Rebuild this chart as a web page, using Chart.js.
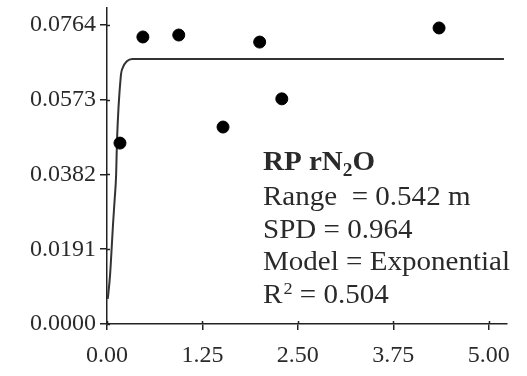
<!DOCTYPE html>
<html>
<head>
<meta charset="utf-8">
<script src="https://cdn.jsdelivr.net/npm/chart.js@4"></script>
<style>
html, body { margin: 0; padding: 0; background: #fff; }
#wrap { width: 527px; height: 376px; }
</style>
</head>
<body>
<div id="wrap"><canvas id="chart" width="527" height="376"></canvas></div>
<script>
// observed semivariance points
const lagDistance = [0.17, 0.47, 0.94, 1.52, 2.00, 2.29, 4.35]
const semivariance = [0.0462, 0.0733, 0.0738, 0.0503, 0.0720, 0.0575, 0.0756]

// fitted model curve
const modelDistance = [0.01, 0.04, 0.08, 0.10, 0.12, 0.13, 0.18, 0.21, 0.26, 0.33, 5.20]
const modelValue = [0.0064, 0.0125, 0.0258, 0.0317, 0.0383, 0.0462, 0.0631, 0.0656, 0.0671, 0.0677, 0.0677]

const xTickValues = [0, 1.25, 2.5, 3.75, 5]
const yTickValues = [0, 0.0191, 0.0382, 0.0573, 0.0764]

const seriesTitle = ["RP rN", "2", "O"]
const statLines = ["Range  = 0.542 m", "SPD = 0.964", "Model = Exponential"]
const rSquared = ["R", "2", " = 0.504"]

const axisColor = "#222"
const textColor = "#2a2a2a"
const serif = "'Liberation Serif', 'DejaVu Serif', serif"

function toPoints(xs, ys) {
    return xs.map((x, i) => ({ x, y: ys[i] }))
}

// small inner part of every tick mark, crossing the axis line
const crossTicks = {
    id: "crossTicks",
    afterDraw(chart) {
        const { ctx, scales } = chart
        const xs = scales.x
        const ys = scales.y
        ctx.save()
        ctx.strokeStyle = axisColor
        ctx.lineWidth = 1.5
        ctx.beginPath()
        xTickValues.forEach((v) => {
            const px = Math.round(xs.getPixelForValue(v)) + 0.5
            ctx.moveTo(px, ys.bottom)
            ctx.lineTo(px, ys.bottom - 3)
        })
        yTickValues.forEach((v) => {
            const py = Math.round(ys.getPixelForValue(v)) + 0.5
            ctx.moveTo(xs.left, py)
            ctx.lineTo(xs.left + 3, py)
        })
        ctx.stroke()
        ctx.restore()
    }
}

const statsBox = {
    id: "statsBox",
    afterDraw(chart) {
        const ctx = chart.ctx
        const left = 263
        const lineGap = 32.5
        ctx.save()
        ctx.fillStyle = textColor
        ctx.textBaseline = "alphabetic"
        ctx.textAlign = "left"

        // the source text is a bit wider than the font, stretch it
        ctx.font = "27px " + serif
        const sx = 247 / ctx.measureText(statLines[2]).width
        ctx.translate(left, 0)
        ctx.scale(sx, 1)

        // bold title with subscript
        ctx.font = "bold 27px " + serif
        let x = 0
        ctx.fillText(seriesTitle[0], x, 170)
        x += ctx.measureText(seriesTitle[0]).width
        ctx.font = "bold 18px " + serif
        ctx.fillText(seriesTitle[1], x, 176)
        x += ctx.measureText(seriesTitle[1]).width
        ctx.font = "bold 27px " + serif
        ctx.fillText(seriesTitle[2], x, 170)

        ctx.font = "27px " + serif
        statLines.forEach((line, i) => {
            ctx.fillText(line, 0, 205 + i * lineGap)
        })

        // R squared with superscript
        const base = 205 + statLines.length * lineGap
        x = 0
        ctx.fillText(rSquared[0], x, base)
        x += ctx.measureText(rSquared[0]).width + 1
        ctx.font = "17px " + serif
        ctx.fillText(rSquared[1], x, base - 9)
        x += ctx.measureText(rSquared[1]).width
        ctx.font = "27px " + serif
        ctx.fillText(rSquared[2], x, base)
        ctx.restore()
    }
}

new Chart(document.getElementById("chart"), {
    type: "scatter",
    data: {
        datasets: [{
            label: "Observed",
            data: toPoints(lagDistance, semivariance),
            backgroundColor: "#000",
            borderColor: "#000",
            pointRadius: 6,
            pointHoverRadius: 6
        }, {
            type: "line",
            label: "Model",
            data: toPoints(modelDistance, modelValue),
            borderColor: "#333",
            borderWidth: 2,
            pointRadius: 0,
            cubicInterpolationMode: "monotone",
            fill: false
        }]
    },
    options: {
        responsive: false,
        animation: false,
        devicePixelRatio: 1,
        layout: {
            padding: { top: 8, right: 20, left: 0, bottom: 0 }
        },
        plugins: {
            legend: { display: false },
            tooltip: { enabled: false }
        },
        scales: {
            x: {
                type: "linear",
                min: 0,
                max: 5.24,
                afterBuildTicks: (scale) => {
                    scale.ticks = xTickValues.map((value) => ({ value }))
                },
                afterFit: (scale) => {
                    scale.height = 52
                },
                ticks: {
                    color: textColor,
                    font: { family: serif, size: 24 },
                    padding: 11,
                    maxRotation: 0,
                    callback: (value) => Number(value).toFixed(2)
                },
                grid: {
                    drawOnChartArea: false,
                    drawTicks: true,
                    tickLength: 6,
                    color: axisColor,
                    lineWidth: 1.5
                },
                border: { color: axisColor, width: 1.5 }
            },
            y: {
                min: 0,
                max: 0.0807,
                afterBuildTicks: (scale) => {
                    scale.ticks = yTickValues.map((value) => ({ value }))
                },
                afterFit: (scale) => {
                    scale.width = 107
                    scale.paddingTop = 0
                },
                ticks: {
                    color: textColor,
                    font: { family: serif, size: 24 },
                    padding: 4,
                    callback: (value) => Number(value).toFixed(4)
                },
                grid: {
                    drawOnChartArea: false,
                    drawTicks: true,
                    tickLength: 7,
                    color: axisColor,
                    lineWidth: 1.5
                },
                border: { color: axisColor, width: 1.5 }
            }
        }
    },
    plugins: [crossTicks, statsBox]
})
</script>
</body>
</html>
